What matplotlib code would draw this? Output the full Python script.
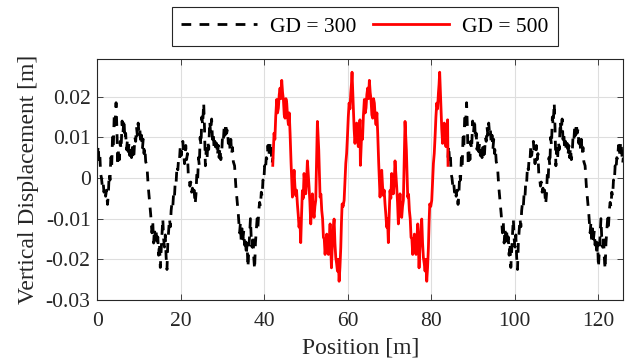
import numpy as np
import matplotlib
matplotlib.use("Agg")
import matplotlib.pyplot as plt
from matplotlib.ticker import FuncFormatter

plt.rcParams['font.family'] = ['Liberation Serif', 'DejaVu Serif']
plt.rcParams['axes.unicode_minus'] = False

# one 21 m span of the profile; the chart repeats it
span_pos_300 = [0.00, 0.15, 0.35, 0.55, 0.75, 0.95, 1.15, 1.35, 1.55, 1.75,
                1.95, 2.15, 2.40, 2.60, 2.80, 3.00, 3.20, 3.40, 3.60, 3.80,
                4.00, 4.20, 4.45, 4.65, 4.85, 5.05, 5.25, 5.45, 5.65, 5.90,
                6.10, 6.35, 6.55, 6.75, 6.95, 7.15, 7.35, 7.55, 7.75, 7.95,
                8.15, 8.35, 8.55, 8.75, 8.95, 9.15, 9.35, 9.55, 9.75, 9.95,
                10.15, 10.35, 10.55, 10.75, 10.95, 11.15, 11.35, 11.55, 11.85, 12.15,
                12.45, 12.75, 13.05, 13.25, 13.45, 13.65, 13.85, 14.05, 14.25, 14.45,
                14.65, 14.85, 15.05, 15.25, 15.45, 15.65, 15.85, 16.05, 16.25, 16.45,
                16.65, 16.85, 17.05, 17.25, 17.45, 17.65, 17.85, 18.05, 18.25, 18.45,
                18.65, 18.85, 19.05, 19.25, 19.45, 19.65, 19.85, 20.05, 20.25, 20.45,
                20.65, 20.85, 21.00]
span_disp_300 = [0.0050, 0.0080, 0.0045, 0.0060, 0.0010, 0.0000, -0.0020, -0.0010, -0.0035, -0.0025,
                 -0.0045, -0.0030, -0.0065, -0.0040, 0.0010, -0.0005, 0.0050, 0.0030, 0.0100, 0.0080,
                 0.0150, 0.0130, 0.0185, 0.0120, 0.0030, 0.0070, 0.0045, 0.0090, 0.0070, 0.0140,
                 0.0110, 0.0145, 0.0095, 0.0110, 0.0070, 0.0090, 0.0065, 0.0085, 0.0055, 0.0080,
                 0.0050, 0.0075, 0.0045, 0.0060, 0.0100, 0.0090, 0.0125, 0.0105, 0.0135, 0.0110,
                 0.0120, 0.0085, 0.0105, 0.0070, 0.0095, 0.0060, 0.0075, 0.0040, 0.0030, -0.0020,
                 -0.0055, -0.0090, -0.0135, -0.0110, -0.0160, -0.0125, -0.0150, -0.0130, -0.0165, -0.0145,
                 -0.0190, -0.0160, -0.0220, -0.0180, -0.0140, -0.0100, -0.0150, -0.0170, -0.0140, -0.0195,
                 -0.0225, -0.0160, -0.0130, -0.0100, -0.0120, -0.0080, -0.0060, -0.0070, -0.0035, -0.0045,
                 -0.0005, -0.0010, 0.0030, 0.0020, 0.0050, 0.0045, 0.0080, 0.0055, 0.0075, 0.0090,
                 0.0060, 0.0035, 0.0050]

span_pos_500 = [0.00, 0.31, 0.51, 0.71, 0.95, 1.15, 1.35, 1.55, 1.75, 1.95,
                2.15, 2.35, 2.55, 2.75, 2.95, 3.15, 3.35, 3.55, 3.75, 3.95,
                4.15, 4.39, 4.71, 4.91, 5.11, 5.31, 5.51, 5.70, 5.90, 6.10,
                6.30, 6.50, 6.70, 6.90, 7.10, 7.30, 7.50, 7.70, 7.90, 8.10,
                8.30, 8.50, 8.70, 8.90, 9.10, 9.30, 9.50, 9.70, 9.90, 10.10,
                10.30, 10.50, 10.70, 11.02, 11.34, 11.54, 11.74, 11.94, 12.14, 12.34,
                12.54, 12.74, 12.94, 13.14, 13.34, 13.54, 13.74, 13.90, 14.06, 14.22,
                14.38, 14.54, 14.70, 14.90, 15.10, 15.30, 15.50, 15.70, 15.90, 16.10,
                16.30, 16.46, 16.62, 16.86, 17.10, 17.30, 17.50, 17.70, 17.90, 18.10,
                18.30, 18.50, 18.70, 18.85, 19.00, 19.15, 19.30, 19.50, 19.70, 19.90,
                20.10, 20.30, 20.50, 20.70, 20.90, 21.00]
span_disp_500 = [0.0031, 0.0110, 0.0095, 0.0151, 0.0193, 0.0160, 0.0172, 0.0205, 0.0221, 0.0195,
                 0.0240, 0.0210, 0.0193, 0.0155, 0.0147, 0.0195, 0.0184, 0.0150, 0.0131, 0.0160,
                 0.0110, 0.0036, -0.0047, -0.0010, 0.0019, -0.0020, -0.0043, -0.0030, -0.0064, -0.0090,
                 -0.0121, -0.0100, -0.0159, -0.0090, -0.0031, -0.0050, 0.0011, -0.0015, -0.0039, -0.0010,
                 0.0042, 0.0010, -0.0022, -0.0060, -0.0113, -0.0070, -0.0039, -0.0080, -0.0097, -0.0070,
                 -0.0055, 0.0040, 0.0139, 0.0069, -0.0047, -0.0040, -0.0080, -0.0100, -0.0146, -0.0150,
                 -0.0188, -0.0160, -0.0138, -0.0170, -0.0188, -0.0150, -0.0113, -0.0170, -0.0221, -0.0180,
                 -0.0146, -0.0120, -0.0101, -0.0160, -0.0196, -0.0210, -0.0229, -0.0200, -0.0254, -0.0220,
                 -0.0171, -0.0110, -0.0064, -0.0070, -0.0055, -0.0010, 0.0036, 0.0060, 0.0102, 0.0150,
                 0.0184, 0.0170, 0.0209, 0.0230, 0.0260, 0.0220, 0.0184, 0.0120, 0.0085, 0.0110,
                 0.0135, 0.0100, 0.0077, 0.0110, 0.0143, 0.0031]

# where each span starts along the track [m]
gd300_starts = [[0, 21], [84, 105]]
gd500_starts = [42, 63]

x_ticks = [0, 20, 40, 60, 80, 100, 120]
y_ticks = [-0.03, -0.02, -0.01, 0, 0.01, 0.02]


def build(pos, disp, starts):
    x = np.concatenate([np.array(pos) + s for s in starts])
    y = np.concatenate([np.array(disp) for s in starts])
    return x, y


fig = plt.figure(figsize=(6.36, 3.62), dpi=100)
ax = fig.add_axes([0.1533, 0.1713, 0.8267, 0.6663])

for i, starts in enumerate(gd300_starts):
    x, y = build(span_pos_300, span_disp_300, starts)
    ax.plot(x, y, color='black', linewidth=2.0, dashes=(3.5, 3),
            label='GD = 300' if i == 0 else None)
x, y = build(span_pos_500, span_disp_500, gd500_starts)
ax.plot(x, y, color='#ff0000', linewidth=2.0, label='GD = 500')

ax.set_xlim(0, 126)
ax.set_ylim(-0.03, 0.0293)
ax.set_xticks(x_ticks)
ax.set_yticks(y_ticks)
ax.yaxis.set_major_formatter(FuncFormatter(lambda v, _: '0' if abs(v) < 1e-9 else f'{v:.2f}'))
ax.grid(True, color='#dedede', linewidth=0.8)
ax.set_axisbelow(True)
ax.tick_params(direction='in', top=True, right=True, length=4, width=0.6,
               labelsize=15.5, colors='#262626')
ax.tick_params(axis='x', pad=9)
ax.tick_params(axis='y', pad=5)
for sp in ax.spines.values():
    sp.set_color('#262626')
    sp.set_linewidth(0.8)

ax.set_xlabel('Position [m]', fontsize=17, color='#262626', labelpad=4)
ax.set_ylabel('Vertical Displacement [m]', fontsize=17, color='#262626', labelpad=5)

leg = ax.legend(loc='upper center', bbox_to_anchor=(0.5735, 1 - 7 / 362),
                bbox_transform=fig.transFigure, borderaxespad=0, ncol=2,
                fontsize=15.5, handlelength=3.5, handletextpad=0.6,
                columnspacing=0.8, borderpad=0.45, fancybox=False, framealpha=1)
leg.get_frame().set_edgecolor('#262626')
leg.get_frame().set_linewidth(0.8)

fig.savefig('out.png', dpi=100)
